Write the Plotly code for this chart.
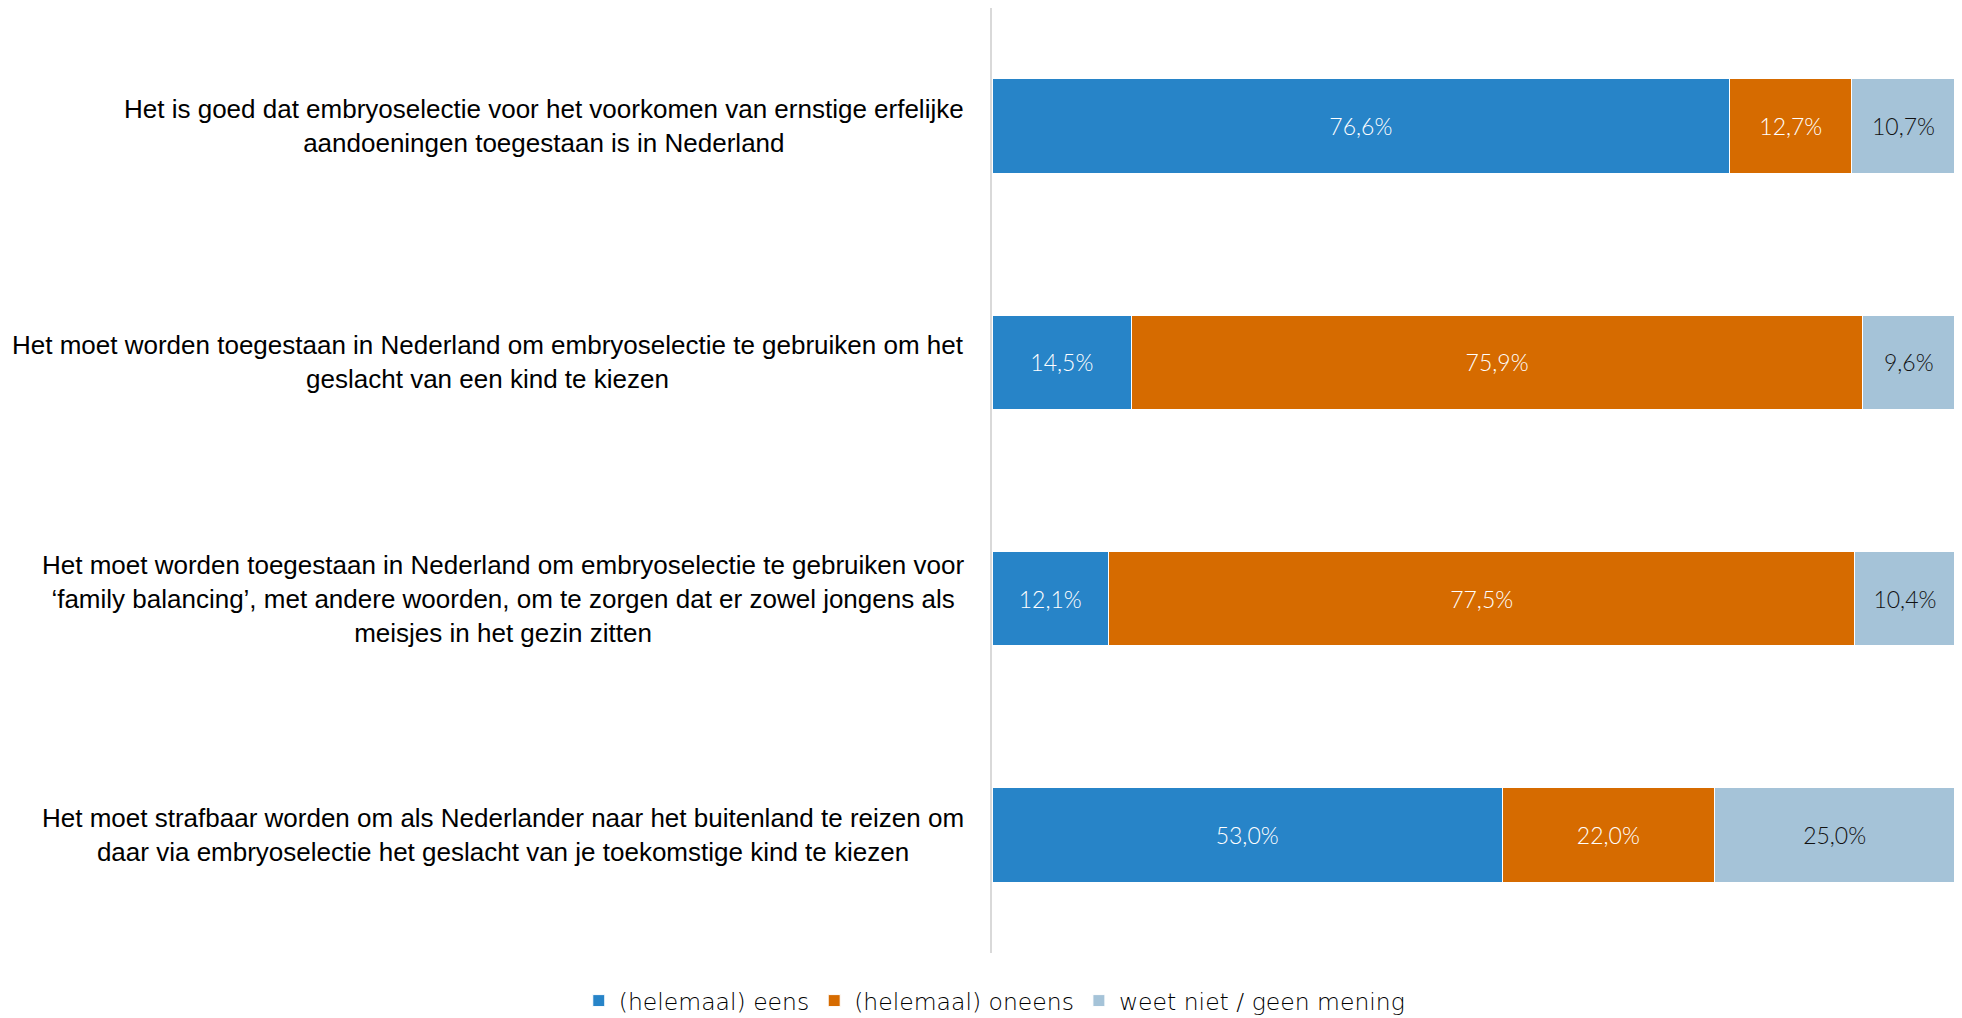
import plotly.graph_objects as go

statements = [
    "Het is goed dat embryoselectie voor het voorkomen van ernstige erfelijke<br>aandoeningen toegestaan is in Nederland",
    "Het moet worden toegestaan in Nederland om embryoselectie te gebruiken om het<br>geslacht van een kind te kiezen",
    "Het moet worden toegestaan in Nederland om embryoselectie te gebruiken voor<br>‘family balancing’, met andere woorden, om te zorgen dat er zowel jongens als<br>meisjes in het gezin zitten",
    "Het moet strafbaar worden om als Nederlander naar het buitenland te reizen om<br>daar via embryoselectie het geslacht van je toekomstige kind te kiezen",
]
categories = ["s1", "s2", "s3", "s4"]

series_names = ["(helemaal) eens", "(helemaal) oneens", "weet niet / geen mening"]
eens = [76.6, 14.5, 12.1, 53.0]
oneens = [12.7, 75.9, 77.5, 22.0]
weet_niet = [10.7, 9.6, 10.4, 25.0]

colors = ["#2784C8", "#D66B00", "#A5C3D8"]
text_colors = ["#FFFFFF", "#FFFFFF", "#111111"]

fig = go.Figure()
for name, vals, col, tcol in zip(series_names, [eens, oneens, weet_niet], colors, text_colors):
    fig.add_trace(go.Bar(
        y=categories, x=vals, name=name, orientation="h",
        marker=dict(color=col, line=dict(color="#FFFFFF", width=1)),
        text=[f"{v:.1f}%".replace(".", ",") for v in vals],
        textposition="inside", insidetextanchor="middle", textangle=0,
        constraintext="none",
        textfont=dict(family="Lato", size=23, color=tcol, weight=300),
        hoverinfo="skip",
    ))

for cat, lab in zip(categories, statements):
    fig.add_annotation(
        x=0, xref="paper", y=cat, yref="y", text=lab, showarrow=False,
        xanchor="right", yanchor="middle", align="center", xshift=-26,
        font=dict(family="Liberation Sans", size=26, color="#000000"),
    )

fig.update_layout(
    width=1954, height=1010,
    margin=dict(l=984, r=7, t=0, b=65, autoexpand=False),
    barmode="stack", bargap=0.6,
    plot_bgcolor="white", paper_bgcolor="white",
    showlegend=True,
    legend=dict(orientation="h", xref="container", x=0.505, xanchor="center",
                yref="container", y=0.017, yanchor="middle",
                font=dict(family="DejaVu Sans", size=23.5, color="#000000", weight=200),
                itemwidth=30, traceorder="normal"),
    xaxis=dict(range=[0, 100], visible=False, fixedrange=True),
    yaxis=dict(categoryorder="array", categoryarray=categories, autorange="reversed",
               showticklabels=False, showline=True, linecolor="#D9D9D9", linewidth=2,
               ticks="", showgrid=False, zeroline=False),
)

fig.write_html("out.html")
